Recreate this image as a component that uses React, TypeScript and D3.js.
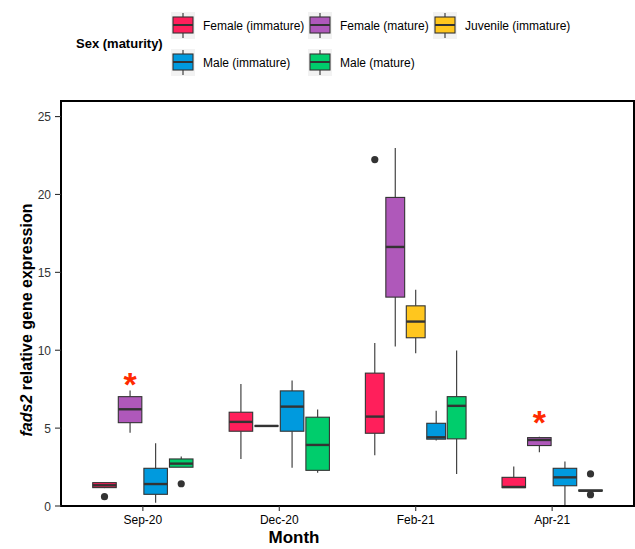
import * as d3 from "d3";

const months = ["Sep-20", "Dec-20", "Feb-21", "Apr-21"];
const groups = [
  "Female (immature)",
  "Female (mature)",
  "Juvenile (immature)",
  "Male (immature)",
  "Male (mature)",
];
const groupColors = ["#FF1F5B", "#AF58BA", "#FFC61E", "#009ADE", "#00CD6C"];

// [lower whisker, q1, median, q3, upper whisker] per month, null = not sampled
type Stat = [number, number, number, number, number] | null;
const femaleImmature: Stat[] = [
  [1.15, 1.18, 1.33, 1.5, 1.5],
  [3.02, 4.8, 5.4, 6.02, 7.84],
  [3.26, 4.67, 5.74, 8.53, 10.46],
  [1.18, 1.18, 1.22, 1.84, 2.53],
];
const femaleMature: Stat[] = [
  [4.71, 5.35, 6.21, 7.02, 7.41],
  [5.14, 5.14, 5.14, 5.14, 5.14],
  [10.24, 13.41, 16.63, 19.81, 22.99],
  [3.45, 3.88, 4.24, 4.39, 4.45],
];
const juvenileImmature: Stat[] = [null, null, [9.81, 10.8, 11.84, 12.85, 13.88], null];
const maleImmature: Stat[] = [
  [0.21, 0.75, 1.41, 2.42, 4.03],
  [2.46, 4.8, 6.38, 7.39, 8.05],
  [4.2, 4.29, 4.41, 5.31, 6.11],
  [0.06, 1.3, 1.84, 2.42, 2.85],
];
const maleMature: Stat[] = [
  [2.49, 2.49, 2.72, 3.02, 3.17],
  [2.14, 2.29, 3.92, 5.7, 6.19],
  [2.06, 4.31, 6.43, 7.02, 9.98],
  [0.96, 0.96, 0.98, 1.03, 1.03],
];
const seriesStats = [femaleImmature, femaleMature, juvenileImmature, maleImmature, maleMature];

const outliers = [
  { month: "Sep-20", group: 0, value: 0.6 },
  { month: "Sep-20", group: 4, value: 1.43 },
  { month: "Feb-21", group: 0, value: 22.24 },
  { month: "Apr-21", group: 4, value: 2.06 },
  { month: "Apr-21", group: 4, value: 0.73 },
];
const significance = [
  { month: "Sep-20", group: 1, value: 8.25 },
  { month: "Apr-21", group: 1, value: 5.85 },
];
const yTicks = [0, 5, 10, 15, 20, 25];

const W = 635;
const H = 549;
const panel = { left: 61, right: 634, top: 101, bottom: 506 };
const font = "'Liberation Sans', Arial, sans-serif";
const ink = "#333333";

const x = d3.scalePoint<string>().domain(months).range([panel.left, panel.right]).padding(0.6);
const y = d3.scaleLinear().domain([0, 26]).range([panel.bottom, panel.top]);
const dodgeWidth = x.step() * 0.75;

// dodge position of a group inside a month (only present groups share the slot)
function boxPos(mi: number, g: number) {
  const present = seriesStats.map((s, gi) => (s[mi] ? gi : -1)).filter((gi) => gi >= 0);
  const n = present.length;
  const slot = dodgeWidth / n;
  const idx = present.indexOf(g);
  const cx = (x(months[mi]) as number) - dodgeWidth / 2 + slot * (idx + 0.5);
  return { cx, w: slot * 0.92 };
}

const legendItems = [
  { group: 0, kx: 171, ky: 12, lx: 203 },
  { group: 1, kx: 308, ky: 12, lx: 340 },
  { group: 2, kx: 433, ky: 12, lx: 465 },
  { group: 3, kx: 171, ky: 49, lx: 203 },
  { group: 4, kx: 308, ky: 49, lx: 340 },
];

export default function App() {
  return (
    <svg width={W} height={H} style={{ display: "block", position: "absolute", left: 0, top: 0 }} fontFamily={font}>
      <rect width={W} height={H} fill="#fff" />

      {/* legend */}
      <text x={76} y={48} fontSize={13} fontWeight="bold" fill="#000">
        Sex (maturity)
      </text>
      {legendItems.map((it) => (
        <g key={it.group}>
          <rect x={it.kx} y={it.ky} width={24} height={27} fill="#F2F2F2" />
          <line x1={it.kx + 12} x2={it.kx + 12} y1={it.ky + 1} y2={it.ky + 26} stroke={ink} strokeWidth={1.1} />
          <rect x={it.kx + 2} y={it.ky + 5} width={20} height={16} fill={groupColors[it.group]} stroke={ink} strokeWidth={1.1} />
          <line x1={it.kx + 2} x2={it.kx + 22} y1={it.ky + 13} y2={it.ky + 13} stroke={ink} strokeWidth={2} />
          <text x={it.lx} y={it.ky + 18} fontSize={12} fill="#000">
            {groups[it.group]}
          </text>
        </g>
      ))}

      {/* boxes */}
      {seriesStats.map((series, g) =>
        series.map((s, mi) => {
          if (!s) return null;
          const { cx, w } = boxPos(mi, g);
          const [lo, q1, med, q3, hi] = s;
          return (
            <g key={`${g}-${mi}`}>
              <line x1={cx} x2={cx} y1={y(hi)} y2={y(q3)} stroke={ink} strokeWidth={1.1} />
              <line x1={cx} x2={cx} y1={y(q1)} y2={y(lo)} stroke={ink} strokeWidth={1.1} />
              <rect
                x={cx - w / 2}
                y={y(q3)}
                width={w}
                height={Math.max(0.01, y(q1) - y(q3))}
                fill={groupColors[g]}
                stroke={ink}
                strokeWidth={1.1}
              />
              <line x1={cx - w / 2} x2={cx + w / 2} y1={y(med)} y2={y(med)} stroke={ink} strokeWidth={2.4} />
            </g>
          );
        })
      )}

      {outliers.map((o, i) => {
        const { cx } = boxPos(months.indexOf(o.month), o.group);
        return <circle key={i} cx={cx} cy={y(o.value)} r={3.6} fill={ink} />;
      })}

      {significance.map((s, i) => {
        const { cx } = boxPos(months.indexOf(s.month), s.group);
        return (
          <text key={i} x={cx} y={y(s.value) + 19} textAnchor="middle" fontSize={34} fontWeight="bold" fill="#FF2A00">
            *
          </text>
        );
      })}

      {/* panel border */}
      <rect
        x={panel.left}
        y={panel.top}
        width={panel.right - panel.left}
        height={panel.bottom - panel.top}
        fill="none"
        stroke="#000"
        strokeWidth={2}
      />

      {/* y axis */}
      {yTicks.map((t) => (
        <g key={t}>
          <line x1={panel.left - 6} x2={panel.left} y1={y(t)} y2={y(t)} stroke={ink} strokeWidth={1.1} />
          <text x={panel.left - 10} y={y(t) + 4.5} textAnchor="end" fontSize={12} fill={ink}>
            {t}
          </text>
        </g>
      ))}
      <text
        transform={`translate(32, 320) rotate(-90)`}
        textAnchor="middle"
        fontSize={16}
        fontWeight="bold"
        fill="#000"
      >
        <tspan fontStyle="italic">fads2</tspan> relative gene expression
      </text>

      {/* x axis */}
      {months.map((m) => (
        <g key={m}>
          <line x1={x(m)} x2={x(m)} y1={panel.bottom} y2={panel.bottom + 5} stroke={ink} strokeWidth={1.1} />
          <text x={x(m)} y={524} textAnchor="middle" fontSize={12} fill="#000">
            {m}
          </text>
        </g>
      ))}
      <text x={294} y={543} textAnchor="middle" fontSize={17} fontWeight="bold" fill="#000">
        Month
      </text>
    </svg>
  );
}
